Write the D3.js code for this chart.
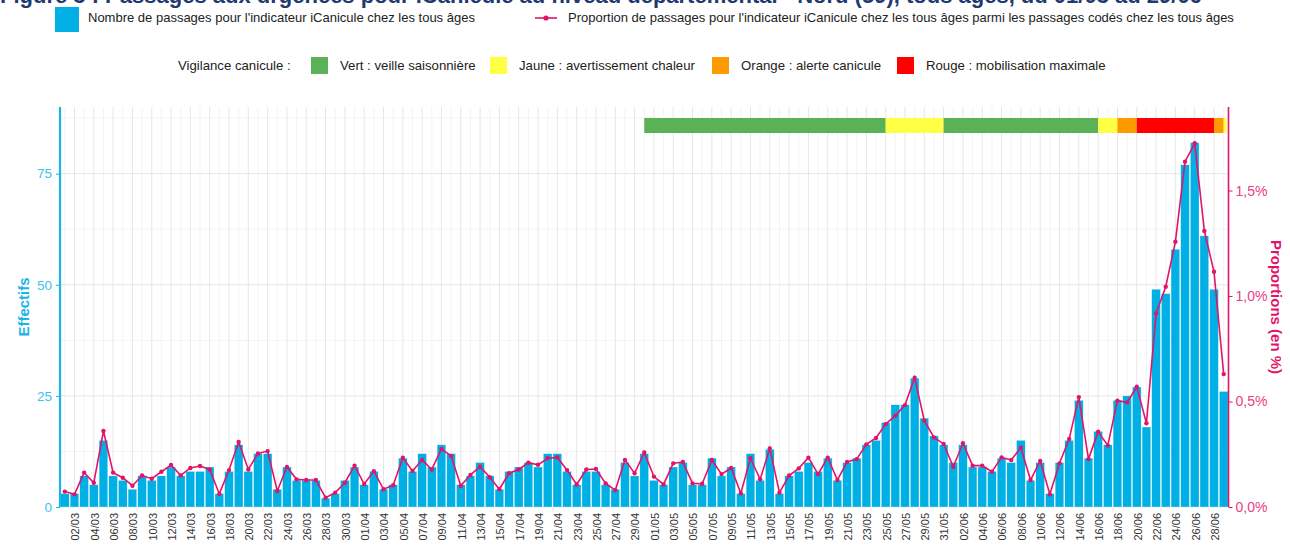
<!DOCTYPE html>
<html>
<head>
<meta charset="utf-8">
<script src="https://cdn.jsdelivr.net/npm/d3@7/dist/d3.min.js"></script>
<style>
  body { margin: 0; background: #fff; font-family: "Liberation Sans", Arial, sans-serif; }
  svg text { font-family: "Liberation Sans", Arial, sans-serif; }
</style>
</head>
<body>
<div id="chart"></div>
<script>
// Days from 01/03 to 29/06
const startDate = new Date(2025, 2, 1), endDate = new Date(2025, 5, 30);
const days = d3.timeDay.range(startDate, endDate).map(d3.timeFormat("%d/%m"));

// Nombre de passages iCanicule (tous âges)
const counts = [
  3, 3, 7, 5, 15, 7, 6, 4, 7, 6, 7, 9, 7, 8, 8, 9, 3, 8, 14, 8, 12, 12, 4, 9, 6, 6, 6, 2, 3, 6, 9,
  5, 8, 4, 5, 11, 8, 12, 9, 14, 12, 5, 7, 10, 7, 4, 8, 9, 10, 9, 12, 12, 8, 5, 8, 8, 5, 4, 10, 7, 12,
  6, 5, 9, 10, 5, 5, 11, 7, 9, 3, 12, 6, 13, 3, 7, 8, 10, 8, 11, 6, 10, 11, 14, 15, 19, 23, 23, 29, 20, 16, 14,
  10, 14, 9, 9, 8, 11, 10, 15, 6, 10, 3, 10, 15, 24, 11, 17, 14, 24, 25, 27, 18, 49, 48, 58, 77, 82, 61, 49, 26
];

// Proportion (en %) parmi les passages codés
const proportions = [
  0.073, 0.06, 0.163, 0.115, 0.36, 0.163, 0.139, 0.101, 0.149, 0.134, 0.167, 0.199, 0.15, 0.185, 0.194, 0.178,
  0.062, 0.175, 0.308, 0.178, 0.254, 0.265, 0.076, 0.19, 0.131, 0.128, 0.128, 0.044, 0.068, 0.115, 0.196,
  0.109, 0.17, 0.084, 0.103, 0.234, 0.171, 0.223, 0.178, 0.275, 0.242, 0.101, 0.152, 0.191, 0.141, 0.084,
  0.16, 0.178, 0.21, 0.2, 0.231, 0.235, 0.175, 0.107, 0.178, 0.18, 0.112, 0.08, 0.223, 0.16, 0.258,
  0.144, 0.107, 0.207, 0.213, 0.112, 0.11, 0.223, 0.156, 0.185, 0.065, 0.231, 0.131, 0.278, 0.068, 0.149,
  0.183, 0.234, 0.156, 0.234, 0.128, 0.213, 0.227, 0.297, 0.327, 0.393, 0.433, 0.483, 0.613, 0.409, 0.33, 0.299,
  0.191, 0.302, 0.196, 0.196, 0.167, 0.235, 0.223, 0.281, 0.128, 0.218, 0.06, 0.207, 0.322, 0.521, 0.227,
  0.357, 0.292, 0.504, 0.496, 0.57, 0.397, 0.918, 1.044, 1.257, 1.637, 1.724, 1.308, 1.115, 0.63
];

// Vigilance canicule periods (start day, level)
const vigilanceStart = ["30/04", "25/05", "31/05", "16/06", "18/06", "20/06", "28/06", "29/06"];
const vigilanceLevel = ["Vert", "Jaune", "Vert", "Jaune", "Orange", "Rouge", "Orange", "Jaune"];

const levels = ["Vert", "Jaune", "Orange", "Rouge"];
const levelLabels = ["Vert : veille saisonnière", "Jaune : avertissement chaleur", "Orange : alerte canicule", "Rouge : mobilisation maximale"];
const levelColors = ["#5bb156", "#ffff44", "#ff9900", "#ff0000"];

const countTicks = [0, 25, 50, 75];
const propTicks = [0, 0.5, 1, 1.5];

const width = 1290, height = 547;
const margin = { top: 107, right: 62, bottom: 40, left: 60 };
const barColor = "#00b0e4", lineColor = "#e2146a";

const svg = d3.select("#chart").append("svg")
  .attr("width", width)
  .attr("height", height);

const plotTop = margin.top, plotBottom = height - margin.bottom;
const plotLeft = margin.left, plotRight = width - margin.right + 0.5;

const x = d3.scaleBand()
  .domain(days)
  .range([plotLeft, plotRight])
  .paddingInner(0.1)
  .paddingOuter(0.05);
const xc = d => x(d) + x.bandwidth() / 2;

const y = d3.scaleLinear().domain([0, 90]).range([plotBottom, plotTop]);
const yp = d3.scaleLinear().domain([0, 1.896]).range([plotBottom, plotTop]);

// grid
const grid = svg.append("g");
grid.selectAll(".hminor")
  .data([12.5, 37.5, 62.5, 87.5])
  .join("line")
  .attr("x1", plotLeft).attr("x2", plotRight)
  .attr("y1", d => y(d)).attr("y2", d => y(d))
  .attr("stroke", "#f0f0f0").attr("stroke-width", 0.8);
grid.selectAll(".hmajor")
  .data(countTicks)
  .join("line")
  .attr("x1", plotLeft).attr("x2", plotRight)
  .attr("y1", d => y(d)).attr("y2", d => y(d))
  .attr("stroke", "#e6e6e6").attr("stroke-width", 1);
grid.selectAll(".v")
  .data(days)
  .join("line")
  .attr("x1", d => xc(d)).attr("x2", d => xc(d))
  .attr("y1", plotTop).attr("y2", plotBottom)
  .attr("stroke", (d, i) => i % 2 === 1 ? "#e6e6e6" : "#f0f0f0")
  .attr("stroke-width", (d, i) => i % 2 === 1 ? 1 : 0.8);

// bars
svg.append("g").selectAll("rect")
  .data(counts)
  .join("rect")
  .attr("x", (d, i) => x(days[i]))
  .attr("y", d => y(d))
  .attr("width", x.bandwidth())
  .attr("height", d => y(0) - y(d))
  .attr("fill", barColor)
  .attr("stroke", "#ffffff")
  .attr("stroke-width", 0.3);

// proportion line + points
const line = d3.line()
  .x((d, i) => xc(days[i]))
  .y(d => yp(d));
svg.append("path")
  .datum(proportions)
  .attr("d", line)
  .attr("fill", "none")
  .attr("stroke", lineColor)
  .attr("stroke-width", 1.6);
svg.append("g").selectAll("circle")
  .data(proportions)
  .join("circle")
  .attr("cx", (d, i) => xc(days[i]))
  .attr("cy", d => yp(d))
  .attr("r", 2.2)
  .attr("fill", lineColor);

// vigilance band
const vig = svg.append("g");
vigilanceStart.forEach((s, i) => {
  const x0 = xc(s);
  const x1 = i < vigilanceStart.length - 1 ? xc(vigilanceStart[i + 1]) : plotRight - 2;
  vig.append("rect")
    .attr("x", x0).attr("y", 118)
    .attr("width", x1 - x0).attr("height", 15)
    .attr("fill", levelColors[levels.indexOf(vigilanceLevel[i])]);
});

// left axis
const yAxis = svg.append("g")
  .attr("transform", `translate(${plotLeft},0)`)
  .call(d3.axisLeft(y).tickValues(countTicks).tickSize(4).tickPadding(4));
yAxis.select(".domain").attr("stroke", "#1ab4e8").attr("stroke-width", 2.2)
  .attr("d", `M0,${plotTop}V${plotBottom}`);
yAxis.selectAll(".tick line").attr("stroke", "#1ab4e8");
yAxis.selectAll(".tick text").attr("fill", "#3fc0ee").style("font-size", "13.5px");

// right axis
const fmt = d => d3.format(".1f")(d).replace(".", ",") + "%";
const ypAxis = svg.append("g")
  .attr("transform", `translate(${plotRight},0)`)
  .call(d3.axisRight(yp).tickValues(propTicks).tickFormat(fmt).tickSize(4).tickPadding(3));
ypAxis.select(".domain").attr("stroke", lineColor).attr("stroke-width", 1.6)
  .attr("d", `M0,${plotTop}V${plotBottom}`);
ypAxis.selectAll(".tick line").attr("stroke", lineColor);
ypAxis.selectAll(".tick text").attr("fill", "#ea3d84").style("font-size", "14px");

// x labels
const xAxis = svg.append("g")
  .attr("transform", `translate(0,${plotBottom})`)
  .call(d3.axisBottom(x).tickValues(days.filter((d, i) => i % 2 === 1)).tickSize(0));
xAxis.select(".domain").remove();
xAxis.selectAll(".tick text")
  .attr("transform", "rotate(-90)")
  .attr("text-anchor", "end")
  .attr("x", -6).attr("y", 1).attr("dy", "0.35em")
  .attr("fill", "#333")
  .style("font-size", "11px");

// axis titles
svg.append("text")
  .attr("transform", `translate(29,${(plotTop + plotBottom) / 2}) rotate(-90)`)
  .attr("text-anchor", "middle")
  .attr("fill", "#1ab4e8")
  .style("font-size", "15px").style("font-weight", "bold")
  .text("Effectifs");
svg.append("text")
  .attr("transform", `translate(1271,${(plotTop + plotBottom) / 2}) rotate(90)`)
  .attr("text-anchor", "middle")
  .attr("fill", lineColor)
  .style("font-size", "15px").style("font-weight", "bold")
  .text("Proportions (en %)");

// title (only its lower edge shows at the top of the picture)
const title = svg.append("text")
  .attr("x", 0).attr("y", 3)
  .attr("fill", "#1f3a70")
  .style("font-size", "22px").style("font-weight", "bold")
  .text("Figure 3 : Passages aux urgences pour iCanicule au niveau départemental - Nord (59), tous âges, du 01/03 au 29/06");
const tl = title.node().getComputedTextLength();
if (tl > 1235) title.style("font-size", (22 * 1235 / tl) + "px");

// legend row 1
const lg = svg.append("g").style("font-size", "13px").attr("fill", "#222");
lg.append("rect").attr("x", 55).attr("y", 7).attr("width", 24).attr("height", 25).attr("fill", barColor);
lg.append("text").attr("x", 88).attr("y", 22).text("Nombre de passages pour l'indicateur iCanicule chez les tous âges");
lg.append("line").attr("x1", 535).attr("x2", 557).attr("y1", 18).attr("y2", 18)
  .attr("stroke", lineColor).attr("stroke-width", 1.6);
lg.append("circle").attr("cx", 546).attr("cy", 18).attr("r", 2.6).attr("fill", lineColor);
lg.append("text").attr("x", 568).attr("y", 22)
  .text("Proportion de passages pour l'indicateur iCanicule chez les tous âges parmi les passages codés chez les tous âges");

// legend row 2
const lv = svg.append("g").style("font-size", "13.2px").attr("fill", "#222");
lv.append("text").attr("x", 178).attr("y", 70).text("Vigilance canicule :");
const squareX = [311, 490, 712, 897];
levels.forEach((l, i) => {
  lv.append("rect").attr("x", squareX[i]).attr("y", 57).attr("width", 17).attr("height", 17)
    .attr("fill", levelColors[i]);
  lv.append("text").attr("x", squareX[i] + 29).attr("y", 70).text(levelLabels[i]);
});
</script>
</body>
</html>
